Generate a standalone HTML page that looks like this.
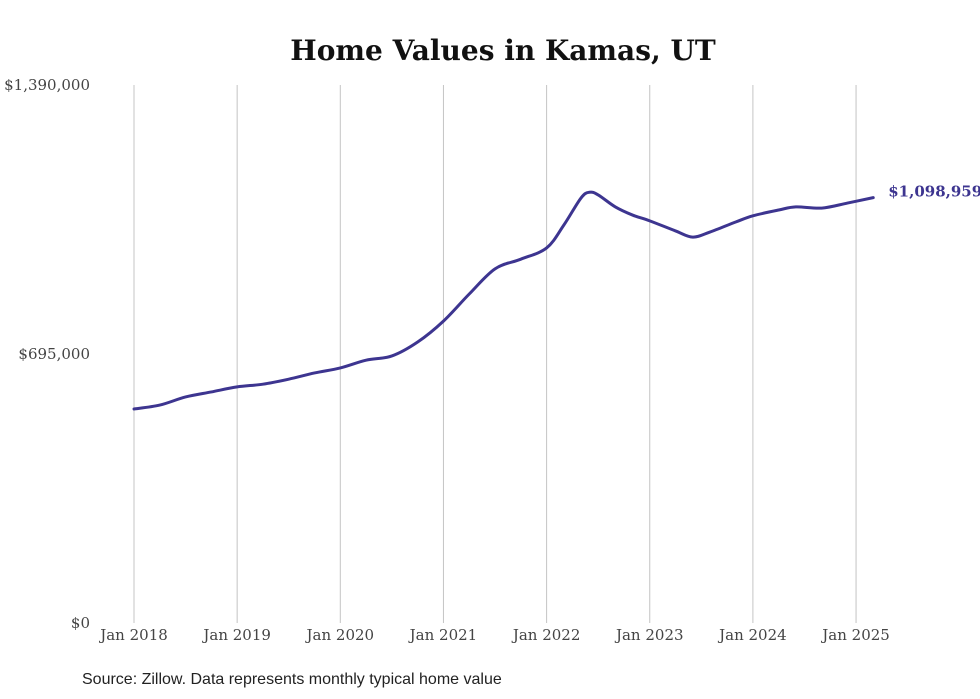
<!DOCTYPE html>
<html><head><meta charset="utf-8"><style>
html,body{margin:0;padding:0;background:#fff;width:980px;height:699px;overflow:hidden}
svg{display:block}
</style></head><body>
<svg id="chart" width="980" height="699">
<text x="503" y="60" text-anchor="middle" font-family="'DejaVu Serif','Liberation Serif',serif" font-weight="bold" font-size="28" fill="#111">Home Values in Kamas, UT</text>
<g id="grid"></g><g id="yaxis"></g><g id="xaxis"></g><g id="series"></g>
<text x="82" y="684" font-family="'Liberation Sans',sans-serif" font-size="16" fill="#222">Source: Zillow. Data represents monthly typical home value</text>
</svg>
<script>
const yTicks=[0,695000,1390000];
const yTickLabels=["$0","$695,000","$1,390,000"];
const xTickYears=[2018,2019,2020,2021,2022,2023,2024,2025];
const xTickLabels=["Jan 2018","Jan 2019","Jan 2020","Jan 2021","Jan 2022","Jan 2023","Jan 2024","Jan 2025"];
const dates=["2018-01","2018-04","2018-07","2018-10","2019-01","2019-04","2019-07","2019-10","2020-01","2020-04","2020-07","2020-10","2021-01","2021-04","2021-07","2021-10","2022-01","2022-03","2022-05","2022-06","2022-07","2022-09","2022-11","2023-01","2023-04","2023-06","2023-08","2023-11","2024-01","2024-04","2024-06","2024-09","2024-12","2025-03"];
const values=[552900,563000,584000,597000,610000,617000,630000,646000,659000,679000,690000,726000,780000,850000,915000,940000,969000,1028000,1098000,1113000,1106000,1075000,1054000,1039000,1013000,997000,1010000,1036000,1052000,1067000,1075000,1072000,1085000,1098959];
const endLabel="$1,098,959";
const NS="http://www.w3.org/2000/svg";
const x0=134,yrW=103.15,yBase=623,yTop=85,yMax=1390000;
function xs(d){const [y,m]=d.split("-").map(Number);return x0+((y-2018)+(m-1)/12)*yrW;}
function xy(yr){return x0+(yr-2018)*yrW;}
function ys(v){return yBase-(v/yMax)*(yBase-yTop);}
function mk(tag,attrs,parent){const e=document.createElementNS(NS,tag);for(const k in attrs)e.setAttribute(k,attrs[k]);parent.appendChild(e);return e;}
const grid=document.getElementById("grid"),ya=document.getElementById("yaxis"),xa=document.getElementById("xaxis"),se=document.getElementById("series");
xTickYears.forEach((yr,i)=>{
 const l=mk("line",{x1:xy(yr),x2:xy(yr),y1:yTop,y2:yBase,stroke:"#c4c4c4","stroke-width":1},grid);
 
 
 const t=mk("text",{x:xy(yr),y:640,"text-anchor":"middle","font-family":"'DejaVu Serif','Liberation Serif',serif","font-size":15,fill:"#444"},xa);
 t.textContent=xTickLabels[i];
 
 
});
yTicks.forEach((v,i)=>{
 const t=mk("text",{x:90,y:ys(v)+5,"text-anchor":"end","font-family":"'DejaVu Serif','Liberation Serif',serif","font-size":15,fill:"#444"},ya);
 t.textContent=yTickLabels[i];
 
 
});
const pts=dates.map((d,i)=>[xs(d),ys(values[i])]);
let p="M"+pts[0][0]+","+pts[0][1];
for(let i=0;i<pts.length-1;i++){
 const a=pts[i-1]||pts[i],b=pts[i],c=pts[i+1],d=pts[i+2]||c;
 const c1=[b[0]+(c[0]-a[0])/6,b[1]+(c[1]-a[1])/6],c2=[c[0]-(d[0]-b[0])/6,c[1]-(d[1]-b[1])/6];
 p+=` C${c1[0]},${c1[1]} ${c2[0]},${c2[1]} ${c[0]},${c[1]}`;
}
const path=mk("path",{d:p,fill:"none",stroke:"#3d3590","stroke-width":3,"stroke-linejoin":"round","stroke-linecap":"round"},se);


const last=pts[pts.length-1];
const lt=mk("text",{x:last[0]+15,y:last[1]-1,"font-family":"'DejaVu Serif','Liberation Serif',serif","font-weight":"bold","font-size":15,fill:"#3d3590"},se);
lt.textContent=endLabel;


</script>
</body></html>
